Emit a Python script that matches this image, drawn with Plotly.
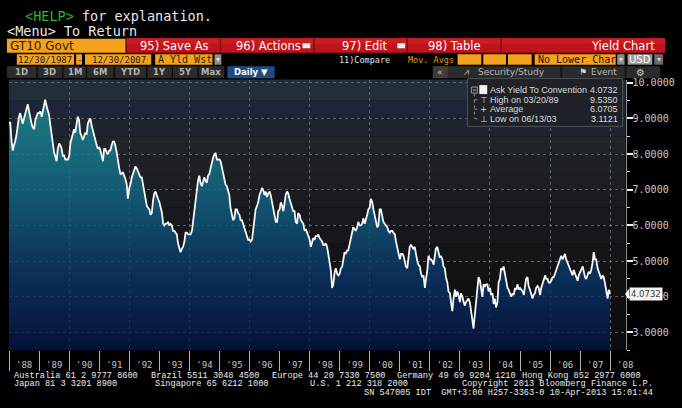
import pandas as pd
import plotly.graph_objects as go

# ---------------- data (semi-monthly readings of GT10 yield, %) ----------------
y1988 = [8.85, 8.90, 8.35, 8.10, 8.25, 8.35, 8.55, 8.85, 9.05, 9.15, 9.00, 8.85,
         9.00, 9.15, 9.25, 9.40, 9.20, 9.00, 8.85, 8.75, 8.70, 8.95, 9.10, 9.15]
y1989 = [9.15, 9.20, 9.05, 9.20, 9.35, 9.53, 9.35, 9.20, 9.10, 8.85, 8.55, 8.35,
         8.05, 7.95, 7.80, 8.15, 8.30, 8.25, 8.15, 7.95, 7.95, 7.85, 7.85, 7.85]
y1990 = [7.95, 8.30, 8.45, 8.55, 8.70, 8.60, 8.80, 9.05, 8.95, 8.60, 8.50, 8.40,
         8.50, 8.60, 8.55, 8.85, 8.95, 9.00, 8.80, 8.65, 8.55, 8.35, 8.25, 8.15]
y1991 = [8.20, 8.10, 7.95, 7.80, 8.15, 8.15, 8.05, 8.00, 8.10, 8.10, 8.25, 8.35,
         8.35, 8.25, 8.05, 7.80, 7.60, 7.45, 7.45, 7.50, 7.40, 7.30, 7.15, 6.75]
y1992 = [7.05, 7.15, 7.35, 7.45, 7.55, 7.65, 7.60, 7.50, 7.45, 7.35, 7.35, 7.15,
         6.90, 6.80, 6.55, 6.50, 6.45, 6.30, 6.35, 6.70, 6.90, 6.95, 6.80, 6.75]
y1993 = [6.65, 6.50, 6.35, 6.05, 6.00, 6.05, 6.05, 6.10, 6.00, 6.05, 6.00, 5.85,
         5.85, 5.80, 5.75, 5.50, 5.35, 5.25, 5.35, 5.40, 5.55, 5.80, 5.80, 5.75]
y1994 = [5.75, 5.75, 5.85, 6.10, 6.35, 6.75, 7.00, 7.25, 7.40, 7.20, 7.10, 7.20,
         7.35, 7.25, 7.20, 7.40, 7.45, 7.60, 7.80, 7.90, 8.00, 8.02, 7.85, 7.85]
y1995 = [7.85, 7.80, 7.60, 7.40, 7.25, 7.15, 7.10, 7.00, 6.85, 6.50, 6.25, 6.15,
         6.20, 6.45, 6.45, 6.35, 6.30, 6.15, 6.15, 6.05, 5.95, 5.80, 5.70, 5.60]
y1996 = [5.60, 5.55, 5.60, 5.85, 6.20, 6.45, 6.55, 6.65, 6.85, 6.95, 7.05, 7.00,
         6.85, 6.95, 6.80, 6.90, 6.95, 6.85, 6.65, 6.50, 6.25, 6.10, 6.10, 6.40]
y1997 = [6.45, 6.65, 6.55, 6.40, 6.60, 6.85, 6.95, 6.90, 6.75, 6.65, 6.55, 6.40,
         6.40, 6.10, 6.05, 6.35, 6.30, 6.15, 6.10, 6.05, 5.85, 5.90, 5.80, 5.70]
y1998 = [5.60, 5.40, 5.55, 5.65, 5.60, 5.70, 5.70, 5.75, 5.65, 5.60, 5.55, 5.45,
         5.45, 5.50, 5.40, 5.20, 4.90, 4.75, 4.25, 4.35, 4.70, 4.80, 4.65, 4.60]
y1999 = [4.65, 4.80, 4.85, 5.10, 5.25, 5.20, 5.30, 5.30, 5.45, 5.65, 5.80, 5.95,
         5.90, 5.85, 5.95, 6.10, 6.00, 6.00, 6.05, 6.20, 6.05, 6.15, 6.30, 6.45]
y2000 = [6.50, 6.75, 6.65, 6.45, 6.30, 6.10, 5.95, 6.00, 6.45, 6.45, 6.25, 6.10,
         6.05, 6.00, 5.95, 5.85, 5.80, 5.85, 5.85, 5.80, 5.75, 5.55, 5.40, 5.20]
y2001 = [5.05, 5.20, 5.20, 5.15, 4.95, 4.85, 4.80, 5.10, 5.40, 5.45, 5.40, 5.35,
         5.40, 5.20, 5.00, 4.90, 4.85, 4.65, 4.55, 4.60, 4.25, 4.50, 4.75, 5.15]
y2002 = [5.05, 5.05, 5.00, 4.90, 5.10, 5.35, 5.40, 5.20, 5.10, 5.15, 5.05, 4.85,
         4.80, 4.55, 4.40, 4.15, 4.10, 3.85, 3.60, 3.95, 4.20, 4.00, 4.15, 4.05]
y2003 = [3.85, 4.10, 4.00, 3.85, 3.75, 3.85, 3.90, 3.95, 3.85, 3.55, 3.35, 3.11,
         3.55, 3.95, 4.40, 4.55, 4.45, 4.25, 4.00, 4.35, 4.30, 4.35, 4.35, 4.15]
y2004 = [4.25, 4.05, 4.10, 3.80, 3.95, 3.70, 3.85, 4.40, 4.50, 4.80, 4.75, 4.85,
         4.60, 4.40, 4.25, 4.20, 4.10, 4.00, 4.10, 4.05, 4.25, 4.20, 4.35, 4.20]
y2005 = [4.25, 4.20, 4.15, 4.05, 4.35, 4.50, 4.55, 4.30, 4.20, 4.05, 3.95, 4.05,
         4.10, 4.25, 4.30, 4.25, 4.05, 4.25, 4.35, 4.45, 4.60, 4.50, 4.50, 4.40]
y2006 = [4.40, 4.45, 4.55, 4.55, 4.65, 4.75, 4.85, 5.00, 5.10, 5.15, 5.05, 5.15,
         5.20, 5.05, 4.95, 4.85, 4.75, 4.70, 4.60, 4.75, 4.65, 4.60, 4.45, 4.60]
y2007 = [4.70, 4.80, 4.85, 4.70, 4.55, 4.50, 4.65, 4.70, 4.65, 4.75, 4.95, 5.25,
         5.05, 5.05, 4.80, 4.70, 4.55, 4.50, 4.60, 4.55, 4.35, 4.15, 3.95, 4.20]

last_value = 4.0732
high_value, high_date = 9.5350, "03/20/89"
avg_value = 6.0705
low_value, low_date = 3.1121, "06/13/03"

yields = (y1988 + y1989 + y1990 + y1991 + y1992 + y1993 + y1994 + y1995 + y1996 + y1997 +
          y1998 + y1999 + y2000 + y2001 + y2002 + y2003 + y2004 + y2005 + y2006 + y2007 +
          [last_value])
dates = ([pd.Timestamp("1987-12-30")] +
         list(pd.date_range("1988-01-15", "2007-12-15", freq="SMS")) +
         [pd.Timestamp("2007-12-28")])

y_ticks = [3, 4, 5, 6, 7, 8, 9, 10]

# ---------------- helpers for pixel placement of the terminal chrome ----------------
W, H = 682, 408
def px(x): return x / W
def py(y): return 1 - y / H

shapes, annos = [], []
def rect(x0, y0, x1, y1, color, lc=None, lw=0, layer="above"):
    shapes.append(dict(type="rect", xref="paper", yref="paper",
                       x0=px(x0), x1=px(x1), y0=py(y1), y1=py(y0),
                       fillcolor=color, line=dict(width=lw, color=lc or color), layer=layer))
def txt(x, y, s, size, color, anchor="left", family="DejaVu Sans"):
    annos.append(dict(x=px(x), y=py(y), xref="paper", yref="paper", text=s, showarrow=False,
                      xanchor=anchor, yanchor="middle", borderpad=0,
                      font=dict(family=family, size=size, color=color)))
def vline(x, y0, y1, color, w=1, dash="solid"):
    shapes.append(dict(type="line", xref="paper", yref="paper", x0=px(x), x1=px(x),
                       y0=py(y0), y1=py(y1), line=dict(color=color, width=w, dash=dash), layer="above"))
def hline(x0, x1, y, color, w=1, dash="solid"):
    shapes.append(dict(type="line", xref="paper", yref="paper", x0=px(x0), x1=px(x1),
                       y0=py(y), y1=py(y), line=dict(color=color, width=w, dash=dash), layer="above"))

MONO = "DejaVu Sans Mono"
ORANGE = "#f4a21e"

# top text lines
txt(24, 14, '<span style="color:#2fb52f">&lt;HELP&gt;</span> for explanation.', 13.5, "#e8e8e8", family=MONO)
txt(6, 29, "&lt;Menu&gt; To Return", 13.5, "#e8e8e8", family=MONO)

# red function bar
rect(7, 37, 127, 51, ORANGE)
txt(9, 44, "GT10 Govt", 12, "#2a1a05")
rect(128, 36.5, 673, 51, "#bf141c")
rect(128, 36.5, 673, 42, "#c91c23")
for sx in [223, 318, 412, 507]:
    vline(sx, 37, 51, "#7c0b10", 1.5)
txt(177, 44, "95) Save As", 11.5, "#ffffff", "center")
txt(238, 44, "96) Actions", 11.5, "#ffffff")
rect(306, 41.5, 314, 46.5, "#eeeeee")
txt(345, 44, "97) Edit", 11.5, "#ffffff")
rect(402, 41.5, 410, 46.5, "#eeeeee")
txt(460, 44, "98) Table", 11.5, "#ffffff", "center")
txt(664, 44, "Yield Chart", 11.5, "#ffffff", "right")

# date / settings row
rect(17, 52.5, 75, 63, ORANGE)
txt(46, 58, "12/30/1987", 9, "#2a1a05", "center", MONO)
rect(77, 52.5, 83, 63, ORANGE)
txt(80, 58, "-", 9, "#2a1a05", "center", MONO)
rect(86, 52.5, 153, 63, ORANGE)
txt(120, 58, "12/30/2007", 9, "#2a1a05", "center", MONO)
rect(157, 52.5, 215, 63, ORANGE)
txt(159, 58, "A Yld Wst", 10, "#2a1a05", "left", MONO)
rect(217, 52.5, 224, 63, "#8c8c8c")
txt(220.5, 58, "▾", 8, "#e0e0e0", "center")
txt(342, 58, "11)Compare", 8.5, "#e0e0e0", "left", MONO)
txt(412, 58, "Mov. Avgs", 8.5, "#e39a1c", "left", MONO)
for bx in [(463, 487), (489, 512), (514, 538)]:
    rect(bx[0], 52.5, bx[1], 63, ORANGE)
rect(541, 52.5, 623, 63, ORANGE)
txt(543, 58, "No Lower Char", 10, "#1a1005", "left", MONO)
rect(624.5, 52.5, 632, 63, "#8c8c8c")
txt(628, 58, "▾", 8, "#e0e0e0", "center")
rect(635, 52.5, 660, 63, "#9c9c9c")
txt(647.5, 58, "USD", 10, "#ffffff", "center")
rect(662, 52.5, 671, 63, "#6a6a6a")
txt(666.5, 58, "▾", 8, "#d0d0d0", "center")

# period buttons row
buttons = ["1D", "3D", "1M", "6M", "YTD", "1Y", "5Y", "Max"]
edges = [7, 38, 64, 88, 116, 149, 175, 201, 228]
for i, b in enumerate(buttons):
    rect(edges[i], 64.5, edges[i + 1] - 1, 76.5, "#2b2b2b")
    txt((edges[i] + edges[i + 1] - 1) / 2, 70.5, "<b>%s</b>" % b, 8.5, "#b4b4b4", "center")
rect(230, 64.5, 278, 76.5, "#1f4b84")
txt(254, 70.5, "<b>Daily ▼</b>", 8.5, "#ffffff", "center")
rect(438, 64.5, 668, 76.5, "#2b2b2b")
rect(438, 64.5, 453, 76.5, "#3c3c3c")
txt(445.5, 70.5, "«", 9, "#c8c8c8", "center")
vline(568, 65, 76, "#111111", 1.5)
vline(633, 65, 76, "#111111", 1.5)
txt(468, 70.5, "⩘", 9, "#c8c8c8", "left")
txt(483, 70.5, "Security/Study", 9, "#b8b8b8", "left")
txt(585, 70.5, "⚑", 9, "#d0d0d0", "left")
txt(597, 70.5, "Event", 9, "#b8b8b8", "left")
txt(648, 70.5, "⚙", 10, "#c8c8c8", "center")

# legend box (inside plot, top right)
LEG = "Liberation Sans"
LS = 9
rect(473, 77, 630, 125, "rgba(30,33,38,0.93)", "#4c5157", 1)
rect(477, 85.5, 483, 91.5, "rgba(0,0,0,0)", "#9a9a9a", 1)
hline(478.5, 481.5, 88.5, "#c0c0c0", 1)
rect(485, 83.5, 493, 92.5, "#f2f2f2")
vline(480, 92, 117, "#8a8a8a", 1, "dot")
for yy in [98.3, 107.7, 117.3]:
    hline(480, 485, yy, "#8a8a8a", 1, "dot")
txt(489, 98.3, "⊤", 8.5, "#d8d8d8", "center")
txt(489, 107.7, "+", 8.5, "#d8d8d8", "center")
txt(489, 117.3, "⊥", 8.5, "#d8d8d8", "center")
txt(495, 88.3, "Ask Yield To Convention", LS, "#dcdcdc", "left", LEG)
txt(626, 88.3, "%.4f" % last_value, LS, "#dcdcdc", "right", LEG)
txt(495, 98.3, "High on " + high_date, LS, "#dcdcdc", "left", LEG)
txt(626, 98.3, "%.4f" % high_value, LS, "#dcdcdc", "right", LEG)
txt(495, 107.7, "Average", LS, "#dcdcdc", "left", LEG)
txt(626, 107.7, "%.4f" % avg_value, LS, "#dcdcdc", "right", LEG)
txt(495, 117.3, "Low on " + low_date, LS, "#dcdcdc", "left", LEG)
txt(626, 117.3, "%.4f" % low_value, LS, "#dcdcdc", "right", LEG)

# last-value tag on the right axis
annos.append(dict(x=px(636), y=last_value, xref="paper", yref="y", text="%.4f" % last_value,
                  showarrow=False, xanchor="left", yanchor="middle", bgcolor="#f4f4f4",
                  borderpad=1, font=dict(family="DejaVu Sans", size=8.5, color="#3a3a3a")))
shapes.append(dict(type="path", xref="paper", yref="y",
                   path="M %f,%f L %f,%f L %f,%f Z" % (px(632.5), last_value, px(636.5), last_value + 0.15,
                                                      px(636.5), last_value - 0.15),
                   fillcolor="#f4f4f4", line=dict(width=0), layer="above"))

# footer (segments placed like the terminal's fixed-width layout)
FOOT = "Liberation Mono"
FS = 8.6
FC = "#ececec"
for fx, s in [(13, "Australia 61 2 9777 8600"), (152, "Brazil 5511 3048 4500"),
              (274, "Europe 44 20 7330 7500"), (401, "Germany 49 69 9204 1210"),
              (527, "Hong Kong 852 2977 6000")]:
    txt(fx, 375.5, s, FS, FC, "left", FOOT)
txt(13, 384, "Japan 81 3 3201 8900", FS, FC, "left", FOOT)
txt(156, 384, "Singapore 65 6212 1000", FS, FC, "left", FOOT)
txt(313, 384, "U.S. 1 212 318 2000", FS, FC, "left", FOOT)
txt(662, 384, "Copyright 2013 Bloomberg Finance L.P.", FS, FC, "right", FOOT)
txt(662, 392.5, "SN 547005 IDT  GMT+3:00 H257-3363-0 10-Apr-2013 15:01:44", FS, FC, "right", FOOT)

# background bands of the plot area (styling)
band_edges = [2.5, 3.0, 3.5, 4.0, 4.5, 5.0, 5.5, 6.0, 6.5, 7.0, 7.5, 8.0, 8.5, 9.0, 9.5, 10.2]
band_colors = ["#0c0c0e", "#0e0e10", "#0f0f12", "#111114", "#131316", "#141418", "#16171b",
               "#18191e", "#1a1b20", "#1b1e23", "#1d2126", "#20252a", "#1f2433", "#1f2538", "#232f38"]
for i, c in enumerate(band_colors):
    shapes.append(dict(type="rect", xref="x domain", yref="y", x0=0, x1=1,
                       y0=band_edges[i], y1=band_edges[i + 1], fillcolor=c,
                       line=dict(width=0), layer="below"))

fill_scale = [[0.0, "rgba(2,17,69,0.8)"], [0.0704, "rgba(5,27,75,0.8)"], [0.2113, "rgba(8,43,95,0.8)"],
              [0.3521, "rgba(10,60,109,0.8)"], [0.493, "rgba(13,84,122,0.8)"], [0.6338, "rgba(17,105,136,0.8)"],
              [0.7746, "rgba(21,121,142,0.8)"], [0.9155, "rgba(27,134,145,0.8)"], [1.0, "rgba(29,136,146,0.8)"]]

fig = go.Figure()
fig.add_trace(go.Scatter(x=dates, y=yields, mode="lines", line=dict(width=0, color="rgba(0,0,0,0)"),
                         fill="tozeroy",
                         fillgradient=dict(type="vertical", colorscale=fill_scale, start=2.5, stop=9.6),
                         hoverinfo="skip", showlegend=False, xaxis="x", yaxis="y"))
fig.add_trace(go.Scatter(x=dates, y=yields, mode="lines", line=dict(width=1.8, color="#f6f6f6"),
                         hoverinfo="skip", showlegend=False, xaxis="x2", yaxis="y"))

xr = ["1987-12-30", "2008-07-06"]
GRID = "#5d6168"
fig.update_layout(
    width=W, height=H, margin=dict(l=0, r=0, t=0, b=0),
    paper_bgcolor="#000000", plot_bgcolor="rgba(0,0,0,0)",
    showlegend=False, hovermode=False,
    xaxis=dict(type="date", domain=[px(9), px(633)], range=xr, anchor="y",
               tickmode="linear", tick0="1990-01-01", dtick="M24",
               showgrid=True, gridcolor=GRID, griddash="dot", gridwidth=1,
               ticks="outside", ticklen=20, tickcolor="#b4b4b4", tickwidth=1,
               showticklabels=False, zeroline=False, showline=False,
               minor=dict(tickmode="linear", tick0="1989-01-01", dtick="M12", ticks="outside",
                          ticklen=20, tickcolor="#b4b4b4", tickwidth=1, showgrid=False)),
    xaxis2=dict(type="date", overlaying="x", anchor="y", side="bottom", range=xr,
                tickmode="linear", tick0="1988-01-01", dtick="M12", ticklabelmode="period",
                tickformat="'%y", ticks="outside", ticklen=6, tickcolor="rgba(0,0,0,0)",
                showgrid=False, zeroline=False, showline=False,
                tickfont=dict(family=MONO, size=9, color="#c4c4c4")),
    yaxis=dict(domain=[py(350), py(78)], range=[2.5, 10.09], side="right", anchor="x",
               tickmode="array", tickvals=y_ticks, tickformat=".4f",
               ticks="outside", ticklen=6, tickwidth=2, tickcolor="#f0f0f0",
               showline=True, linecolor="#8c8c8c", linewidth=1,
               showgrid=True, gridcolor=GRID, griddash="dot", gridwidth=1, zeroline=False,
               minor=dict(tickmode="linear", tick0=2.5, dtick=0.5, ticks="outside", ticklen=3,
                          tickcolor="#e0e0e0", tickwidth=1, showgrid=False),
               ticklabelstandoff=-2,
               tickfont=dict(family=MONO, size=10, color="#c8c8c8")),
    shapes=shapes, annotations=annos,
)
fig.write_html("out.html", config={"responsive": False, "displayModeBar": False, "staticPlot": True},
               post_script="document.body.style.margin='0px';document.body.style.overflow='hidden';"
                           "document.documentElement.style.overflow='hidden';")
